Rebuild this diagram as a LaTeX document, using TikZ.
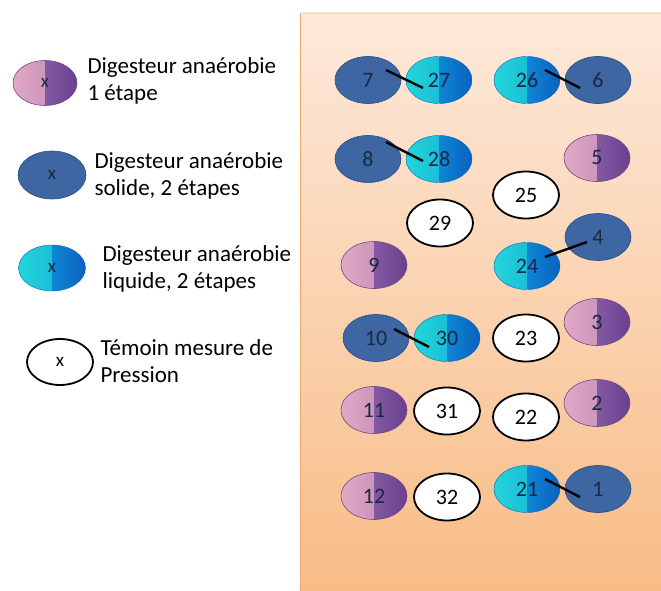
\documentclass[tikz,border=0pt]{standalone}
\usepackage{fontspec}
\setmainfont{Carlito}
\usetikzlibrary{shapes.geometric}
\definecolor{panelTop}{HTML}{FDE9DA}
\definecolor{panelBot}{HTML}{F8BC86}
\definecolor{panelEdge}{HTML}{E6A870}
\definecolor{pinkL}{HTML}{E2A9C6}
\definecolor{pinkR}{HTML}{B683B0}
\definecolor{purpL}{HTML}{8459A3}
\definecolor{purpR}{HTML}{6A3F8E}
\definecolor{purpEdge}{HTML}{6E4A86}
\definecolor{solidBlue}{HTML}{3D66A3}
\definecolor{solidEdge}{HTML}{2C4C82}
\definecolor{cyanL}{HTML}{22D6DA}
\definecolor{cyanM}{HTML}{14A8D4}
\definecolor{blueM}{HTML}{0E86D6}
\definecolor{blueR}{HTML}{0A62BE}
\definecolor{labelInk}{HTML}{1B2840}
\tikzset{
  digester/.style={ellipse, minimum width=66pt, minimum height=47pt, inner sep=0pt,
    font=\fontsize{22}{24}\selectfont, text=labelInk},
  onestage/.style={digester, draw=purpEdge, line width=0.6pt,
    path picture={
      \shade[left color=pinkL, right color=pinkR]
        (path picture bounding box.south west) rectangle (path picture bounding box.north);
      \shade[left color=purpL, right color=purpR]
        (path picture bounding box.south) rectangle (path picture bounding box.north east);}},
  solidstage/.style={digester, fill=solidBlue, draw=solidEdge, line width=0.6pt},
  liquidstage/.style={digester, draw=blueR, line width=0.4pt,
    path picture={
      \shade[left color=cyanL, right color=cyanM]
        (path picture bounding box.south west) rectangle (path picture bounding box.north);
      \shade[left color=blueM, right color=blueR]
        (path picture bounding box.south) rectangle (path picture bounding box.north east);}},
  witness/.style={digester, fill=white, draw=black, line width=1.8pt, text=black},
  legendtext/.style={anchor=west, align=left, font=\fontsize{23}{27}\selectfont, text=black},
  legendkey/.style={font=\fontsize{19}{21}\selectfont},
  link/.style={draw=black, line width=2.4pt}
}
\begin{document}
\begin{tikzpicture}[x=1pt, y=-1pt]
\useasboundingbox (0,0) rectangle (661,591);
\fill[white] (0,0) rectangle (661,591);

% shaded panel holding the digesters
\shade[top color=panelTop, bottom color=panelBot] (300,13) rectangle (661,591);
\draw[panelEdge, line width=1.5pt] (300.5,13) -- (300.5,591);
\draw[panelTop!70!panelEdge, line width=0.8pt] (300,13) -- (661,13);

% legend
\node[onestage, legendkey, minimum width=64pt, minimum height=45pt] (k1) at (45,83) {x};
\node[legendtext] (t1) at (84,81) {Digesteur anaérobie\\1 étape};
\node[solidstage, legendkey, minimum width=68pt, minimum height=48pt] (k2) at (52,175) {x};
\node[legendtext] (t2) at (91,176) {Digesteur anaérobie\\solide, 2 étapes};
\node[liquidstage, legendkey, minimum width=67pt, minimum height=46pt] (k3) at (52,268) {x};
\node[legendtext] (t3) at (99,269) {Digesteur anaérobie\\liquide, 2 étapes};
\node[witness, legendkey, minimum width=66pt, minimum height=46pt] (k4) at (60,362) {x};
\node[legendtext] (t4) at (97,361) {Témoin mesure de\\Pression};

% digesters
\node[solidstage]  (n7)  at (368,80)  {7};
\node[liquidstage] (n27) at (439,80)  {27};
\node[liquidstage] (n26) at (527,80)  {26};
\node[solidstage]  (n6)  at (598,80)  {6};
\node[solidstage]  (n8)  at (368,159) {8};
\node[liquidstage] (n28) at (439,159) {28};
\node[onestage]    (n5)  at (597,158) {5};
\node[witness]     (n25) at (526,195) {25};
\node[witness]     (n29) at (440,223) {29};
\node[solidstage]  (n4)  at (598,237) {4};
\node[liquidstage] (n24) at (527,266) {24};
\node[onestage]    (n9)  at (374,265) {9};
\node[solidstage]  (n10) at (376,338) {10};
\node[liquidstage] (n30) at (447,338) {30};
\node[witness]     (n23) at (526,338) {23};
\node[onestage]    (n3)  at (597,322) {3};
\node[onestage]    (n11) at (374,410) {11};
\node[witness]     (n31) at (447,411) {31};
\node[witness]     (n22) at (526,417) {22};
\node[onestage]    (n2)  at (597,403) {2};
\node[onestage]    (n12) at (374,496) {12};
\node[witness]     (n32) at (447,497) {32};
\node[liquidstage] (n21) at (527,489) {21};
\node[solidstage]  (n1)  at (598,489) {1};

% pairings between two-stage digesters
\draw[link] ([shift={(18,-10)}]n7.center)  -- ([shift={(-16,8)}]n27.center);
\draw[link] ([shift={(18,-10)}]n26.center) -- ([shift={(-18,8)}]n6.center);
\draw[link] ([shift={(18,-17)}]n8.center)  -- ([shift={(-16,2)}]n28.center);
\draw[link] ([shift={(18,-9)}]n24.center)  -- ([shift={(-11,5)}]n4.center);
\draw[link] ([shift={(18,-9)}]n10.center)  -- ([shift={(-18,9)}]n30.center);
\draw[link] ([shift={(18,-10)}]n21.center) -- ([shift={(-18,8)}]n1.center);
\end{tikzpicture}
\end{document}
